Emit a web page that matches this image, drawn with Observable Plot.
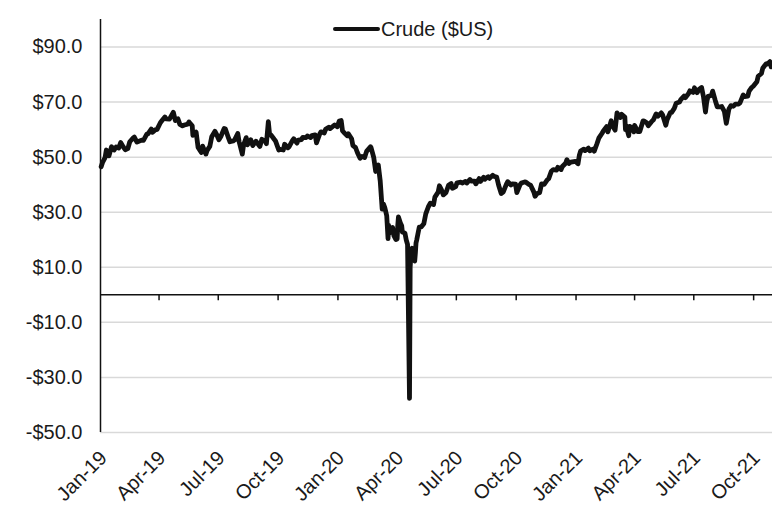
<!DOCTYPE html>
<html>
<head>
<meta charset="utf-8">
<script src="https://cdn.jsdelivr.net/npm/d3@7"></script>
<script src="https://cdn.jsdelivr.net/npm/@observablehq/plot@0.6"></script>
<style>
  html, body { margin: 0; padding: 0; background: #fff; }
  #wrap { position: relative; width: 772px; height: 508px; font-family: "Liberation Sans", Arial, sans-serif; }
  #legend { position: absolute; left: 333px; top: 17px; display: flex; align-items: center; font-size: 20px; color: #1a1a1a; line-height: 24px; }
  #legend .sw { width: 47px; height: 4.5px; background: #111; border-radius: 2px; margin-right: 1px; }
</style>
</head>
<body>
<div id="wrap">
  <div id="chart"></div>
  <div id="legend"><span class="sw"></span><span>Crude ($US)</span></div>
</div>
<script>
// Crude oil price (WTI, $US)
const dates = [
"2019-01-02","2019-01-04","2019-01-08","2019-01-10","2019-01-14","2019-01-18","2019-01-22","2019-01-25","2019-01-29","2019-02-01",
"2019-02-05","2019-02-08","2019-02-12","2019-02-15","2019-02-20","2019-02-22","2019-02-26","2019-03-01","2019-03-06","2019-03-08",
"2019-03-13","2019-03-15","2019-03-20","2019-03-22","2019-03-26","2019-03-29","2019-04-03","2019-04-05","2019-04-10","2019-04-12",
"2019-04-17","2019-04-23","2019-04-26","2019-04-30","2019-05-03","2019-05-07","2019-05-10","2019-05-15","2019-05-17","2019-05-22",
"2019-05-23","2019-05-28","2019-05-31","2019-06-05","2019-06-07","2019-06-12","2019-06-14","2019-06-18","2019-06-21","2019-06-26",
"2019-06-28","2019-07-02","2019-07-05","2019-07-10","2019-07-12","2019-07-17","2019-07-19","2019-07-24","2019-07-26","2019-07-31",
"2019-08-02","2019-08-07","2019-08-09","2019-08-13","2019-08-15","2019-08-20","2019-08-23","2019-08-28","2019-08-30","2019-09-03",
"2019-09-06","2019-09-11","2019-09-13","2019-09-16","2019-09-18","2019-09-20","2019-09-25","2019-09-27","2019-10-02","2019-10-04",
"2019-10-09","2019-10-11","2019-10-16","2019-10-18","2019-10-23","2019-10-25","2019-10-30","2019-11-01","2019-11-06","2019-11-08",
"2019-11-13","2019-11-15","2019-11-20","2019-11-22","2019-11-27","2019-11-29","2019-12-04","2019-12-06","2019-12-11","2019-12-13",
"2019-12-18","2019-12-20","2019-12-27","2019-12-31",
"2020-01-03","2020-01-06","2020-01-08","2020-01-10","2020-01-15","2020-01-17","2020-01-22","2020-01-24","2020-01-28","2020-01-31",
"2020-02-04","2020-02-07","2020-02-11","2020-02-14","2020-02-20","2020-02-21","2020-02-25","2020-02-28","2020-03-03","2020-03-06",
"2020-03-09","2020-03-11","2020-03-13","2020-03-16","2020-03-18","2020-03-19","2020-03-20","2020-03-23","2020-03-25","2020-03-27",
"2020-03-30","2020-04-01","2020-04-02","2020-04-03","2020-04-06","2020-04-08","2020-04-09","2020-04-13","2020-04-15","2020-04-17",
"2020-04-20","2020-04-21","2020-04-22","2020-04-23","2020-04-24","2020-04-27","2020-04-28","2020-04-29","2020-04-30","2020-05-01",
"2020-05-05","2020-05-08","2020-05-12","2020-05-15","2020-05-19","2020-05-22","2020-05-27","2020-05-29","2020-06-03","2020-06-05",
"2020-06-08","2020-06-11","2020-06-15","2020-06-19","2020-06-23","2020-06-25","2020-06-30","2020-07-02","2020-07-08","2020-07-10",
"2020-07-15","2020-07-17","2020-07-22","2020-07-24","2020-07-29","2020-07-31","2020-08-05","2020-08-07","2020-08-12","2020-08-14",
"2020-08-19","2020-08-21","2020-08-26","2020-08-28","2020-09-01","2020-09-04","2020-09-08","2020-09-11","2020-09-16","2020-09-18",
"2020-09-23","2020-09-25","2020-09-30","2020-10-02","2020-10-07","2020-10-09","2020-10-14","2020-10-16","2020-10-21","2020-10-23",
"2020-10-28","2020-10-30","2020-11-02","2020-11-06","2020-11-09","2020-11-13","2020-11-18","2020-11-20","2020-11-24","2020-11-27",
"2020-12-02","2020-12-04","2020-12-09","2020-12-11","2020-12-16","2020-12-18","2020-12-21","2020-12-24","2020-12-31",
"2021-01-04","2021-01-06","2021-01-08","2021-01-13","2021-01-15","2021-01-20","2021-01-22","2021-01-27","2021-01-29","2021-02-02",
"2021-02-05","2021-02-10","2021-02-12","2021-02-17","2021-02-19","2021-02-24","2021-02-26","2021-03-02","2021-03-05","2021-03-08",
"2021-03-10","2021-03-12","2021-03-17","2021-03-18","2021-03-19","2021-03-23","2021-03-24","2021-03-26","2021-03-31","2021-04-01",
"2021-04-06","2021-04-09","2021-04-14","2021-04-16","2021-04-20","2021-04-22","2021-04-27","2021-04-30","2021-05-04","2021-05-07",
"2021-05-12","2021-05-14","2021-05-19","2021-05-21","2021-05-26","2021-05-28","2021-06-01","2021-06-04","2021-06-09","2021-06-11",
"2021-06-16","2021-06-18","2021-06-23","2021-06-25","2021-06-30","2021-07-02","2021-07-06","2021-07-09","2021-07-13","2021-07-16",
"2021-07-19","2021-07-21","2021-07-23","2021-07-28","2021-07-30","2021-08-03","2021-08-06","2021-08-10","2021-08-13","2021-08-17",
"2021-08-20","2021-08-24","2021-08-27","2021-08-31","2021-09-03","2021-09-08","2021-09-10","2021-09-15","2021-09-17","2021-09-22",
"2021-09-24","2021-09-28","2021-10-01","2021-10-06","2021-10-08","2021-10-13","2021-10-15","2021-10-20","2021-10-22","2021-10-26",
"2021-10-28","2021-10-29"
];
const crude = [
46.5,48.0,49.8,52.6,50.5,53.8,52.6,53.7,53.3,55.3,
53.7,52.7,53.1,55.6,56.9,57.3,55.5,55.8,56.2,56.1,
58.3,58.5,60.2,59.0,59.9,60.1,62.5,63.1,64.6,63.9,
63.8,66.3,63.3,63.9,61.9,61.4,61.7,62.0,62.8,61.4,
57.9,59.1,53.5,51.7,54.0,51.1,52.5,53.9,57.4,59.4,
58.5,56.3,57.5,60.4,60.2,56.8,55.6,55.9,56.2,58.6,
55.7,51.1,54.5,57.1,54.5,56.3,54.2,55.8,55.1,53.9,
56.5,55.8,54.9,62.9,58.1,58.1,56.5,55.9,52.6,52.8,
52.6,54.7,53.4,53.8,56.0,56.7,55.1,56.2,56.4,57.2,
57.1,57.7,57.1,57.8,58.1,55.2,58.4,59.2,58.8,60.1,
60.9,60.4,61.7,61.1,
63.1,63.3,59.6,59.0,57.8,58.5,56.7,54.2,53.5,51.6,
49.6,50.3,49.9,52.1,53.8,53.4,49.9,44.8,47.2,41.3,
31.1,33.0,31.7,28.7,20.4,25.2,22.4,23.4,24.5,21.5,
20.1,20.3,25.3,28.3,26.1,25.1,22.8,22.4,19.9,18.3,
-37.6,10.0,13.8,16.5,16.9,12.8,12.3,15.1,18.8,19.8,
24.6,24.7,25.8,29.4,32.0,33.3,32.8,35.5,37.3,39.6,
38.2,36.3,37.1,39.8,40.4,38.7,39.3,40.7,40.9,40.6,
41.2,40.6,41.9,41.3,41.3,40.3,42.2,41.2,42.7,42.0,
42.9,42.3,43.4,43.0,42.8,39.8,36.8,37.3,40.2,41.1,
39.9,40.3,40.2,37.1,40.0,40.6,41.0,40.9,40.0,39.9,
37.4,35.8,36.8,37.1,40.3,40.1,41.8,42.2,44.9,45.5,
45.3,46.3,45.5,46.6,47.8,49.1,47.7,48.2,48.5,
47.6,50.6,52.2,52.9,52.4,53.3,52.3,52.9,52.2,54.8,
56.9,58.7,59.5,61.1,59.2,63.2,61.5,59.8,66.1,65.1,
64.4,65.6,64.6,60.0,61.4,57.8,61.2,61.0,59.2,61.5,
59.3,59.3,63.2,63.1,62.4,61.4,62.9,63.6,65.7,64.9,
66.1,65.4,61.6,63.6,66.2,66.3,67.7,69.6,70.0,70.9,
72.2,71.6,73.1,74.1,73.5,75.2,73.4,74.6,75.3,71.8,
66.4,70.3,72.1,72.4,74.0,70.6,68.3,68.3,68.4,66.6,
62.3,67.5,68.7,68.5,69.3,69.3,69.7,72.6,72.0,72.2,
74.0,75.3,75.9,77.4,79.4,80.4,82.3,83.9,83.8,84.7,
82.8,83.6
];
// Axis ticks
const yTicks = [-50, -30, -10, 10, 30, 50, 70, 90];
const xTickLabels = ["Jan-19","Apr-19","Jul-19","Oct-19","Jan-20","Apr-20","Jul-20","Oct-20","Jan-21","Apr-21","Jul-21","Oct-21"];
const xTickDates = ["2019-01-01","2019-04-01","2019-07-01","2019-10-01","2020-01-01","2020-04-01","2020-07-01","2020-10-01","2021-01-01","2021-04-01","2021-07-01","2021-10-01"];
const xDomain = ["2019-01-01", "2021-10-30"];
const yDomain = [-50, 100];

const parse = d3.utcParse("%Y-%m-%d");
const data = dates.map((d, i) => ({date: parse(d), value: crude[i]}));
const ticks = xTickDates.map(parse);
const labelOf = new Map(ticks.map((t, i) => [+t, xTickLabels[i]]));
const fmtY = v => (v < 0 ? "-$" : "$") + Math.abs(v).toFixed(1);

const chart = Plot.plot({
  width: 772,
  height: 508,
  marginLeft: 100,
  marginRight: 0,
  marginTop: 19,
  marginBottom: 76,
  style: {fontFamily: "'Liberation Sans', Arial, sans-serif", fontSize: "20px", color: "#1a1a1a", background: "#fff", overflow: "visible"},
  x: {type: "utc", domain: xDomain.map(parse)},
  y: {domain: yDomain},
  marks: [
    Plot.ruleY(yTicks, {stroke: "#d9d9d9", strokeWidth: 1.5}),
    Plot.axisY({ticks: yTicks, tickFormat: fmtY, tickSize: 0, tickPadding: 18, label: null, fontSize: 20}),
    Plot.axisX({ticks: ticks, tickFormat: d => labelOf.get(+d), tickSize: 0, tickPadding: 22, dx: 3, tickRotate: -45, label: null, fontSize: 20}),
    Plot.ruleX([parse(xDomain[0])], {stroke: "#111", strokeWidth: 1.5}),
    Plot.ruleY([0], {stroke: "#111", strokeWidth: 1.5}),
    Plot.ruleX(ticks.slice(1), {x: d => d, y1: 0, y2: 0, insetBottom: -6, stroke: "#111", strokeWidth: 1.5}),
    Plot.line(data, {x: "date", y: "value", stroke: "#111", strokeWidth: 4.8, strokeLinejoin: "round", strokeLinecap: "round"})
  ]
});
document.getElementById("chart").appendChild(chart);
</script>
</body>
</html>
